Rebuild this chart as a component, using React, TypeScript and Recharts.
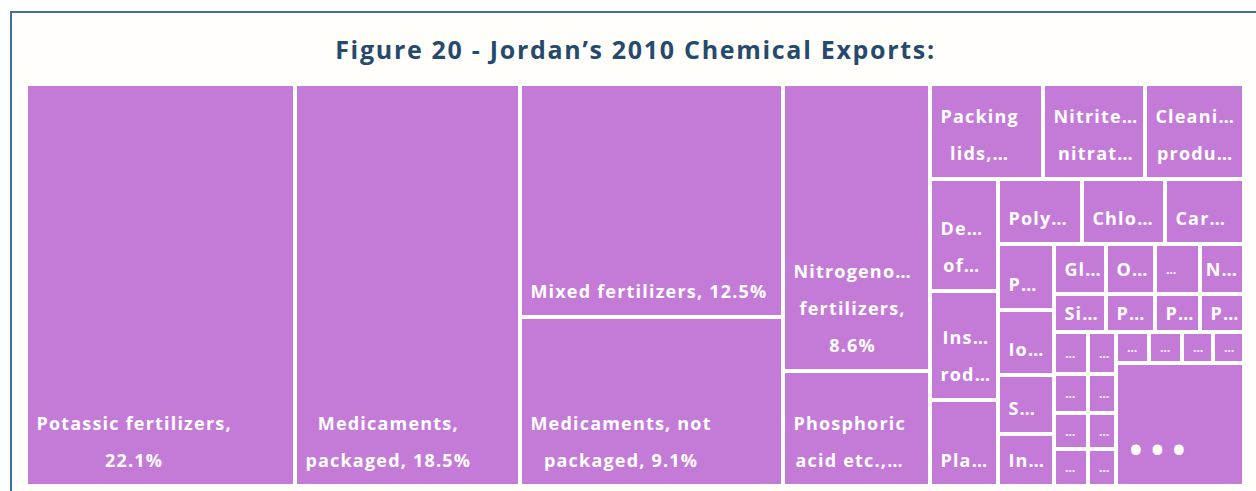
import React from 'react';
import { Treemap } from 'recharts';

// label lines are split on "|", as shown in the figure
const labels = [
  'Potassic fertilizers,|22.1%',
  'Medicaments,|packaged, 18.5%',
  'Mixed fertilizers, 12.5%',
  'Medicaments, not|packaged, 9.1%',
  'Nitrogeno…|fertilizers,|8.6%',
  'Phosphoric|acid etc.,…',
  'Packing|lids,…',
  'Nitrite…|nitrat…',
  'Cleani…|produ…',
  'De…|of…',
  'Ins…|rod…',
  'Pla…',
  'Poly…',
  'Chlo…',
  'Car…',
  'P…',
  'Io…',
  'S…',
  'In…',
  'Gl…',
  'O…',
  '…',
  'N…',
  'Si…',
  'P…',
  'P…',
  'P…',
  '…', '…', '…', '…',
  '…', '…', '…', '…',
  '…', '…', '…', '…',
  '• • •',
];

// share of exports, %
const shares = [
  22.1, 18.5, 12.5, 9.1, 8.6, 3.45,
  2.19, 1.98, 1.9,
  1.56, 1.51, 1.22,
  1.12, 1.1, 1.02,
  0.75, 0.74, 0.68, 0.58,
  0.53, 0.5, 0.46, 0.455,
  0.4, 0.38, 0.35, 0.35,
  0.292, 0.271, 0.25, 0.246,
  0.24, 0.223, 0.206, 0.203,
  0.212, 0.212, 0.199, 0.19,
  3.19,
];

const data = labels.map((name, i) => ({ name, size: shares[i] }));

const FILL = '#C47BD8';
const FONT = "'Open Sans', sans-serif";
const SPACING = 1.2;

let ctx: CanvasRenderingContext2D | null = null;
const textWidth = (text: string, size: number) => {
  if (!ctx) ctx = document.createElement('canvas').getContext('2d');
  if (!ctx) return text.length * size * 0.6;
  ctx.font = `700 ${size}px 'Open Sans'`;
  return ctx.measureText(text).width + SPACING * (text.length - 1);
};

const CellContent = (props: any) => {
  const { x, y, width, height, depth, name } = props;
  if (depth !== 1) return <g />;

  const lines = String(name).split('|');
  const dots = name === '• • •';
  const tiny = name === '…';
  const fontSize = tiny ? 12 : dots ? 34 : 18;

  const blockW = Math.max(...lines.map((l) => textWidth(l, fontSize)));
  let cx = x + 11 + blockW / 2;
  if (x + 11 + blockW > x + width - 4) cx = x + width / 2;

  const bottom = y + height - 2;
  const visH = height - 4;
  const lastY = dots ? bottom - 35 : bottom - Math.min(24, visH / 2);
  const gap = 37;

  return (
    <g>
      <rect x={x} y={y} width={width} height={height} fill={FILL} stroke="#fff" strokeWidth={4} />
      {lines.map((line, i) => (
        <text
          key={i}
          x={cx}
          y={lastY - (lines.length - 1 - i) * gap}
          textAnchor="middle"
          dominantBaseline="central"
          fill="#fff"
          fontFamily={FONT}
          fontWeight={700}
          fontSize={fontSize}
          letterSpacing={tiny || dots ? 0 : SPACING}
        >
          {line}
        </text>
      ))}
    </g>
  );
};

const App = () => {
  return (
    <div style={{ position: 'fixed', inset: 0, overflow: 'hidden', background: '#fff' }}>
      <div
        style={{
          position: 'absolute',
          left: 10,
          top: 11,
          width: 1250,
          height: 490,
          borderTop: '2px solid #4271A0',
          borderLeft: '2px solid #4271A0',
          background: '#FFFEFA',
        }}
      />
      <div
        style={{
          position: 'absolute',
          left: 0,
          top: 33,
          width: 1271,
          textAlign: 'center',
          fontFamily: FONT,
          fontWeight: 700,
          fontSize: 25,
          letterSpacing: 1.7,
          lineHeight: '32px',
          color: '#254A6E',
        }}
      >
        Figure 20 - Jordan’s 2010 Chemical Exports:
      </div>
      <div style={{ position: 'absolute', left: 26, top: 84 }}>
        <Treemap
          width={1218}
          height={402}
          data={data}
          dataKey="size"
          nameKey="name"
          aspectRatio={0.85}
          isAnimationActive={false}
          content={<CellContent />}
        />
      </div>
    </div>
  );
};

export default App;
